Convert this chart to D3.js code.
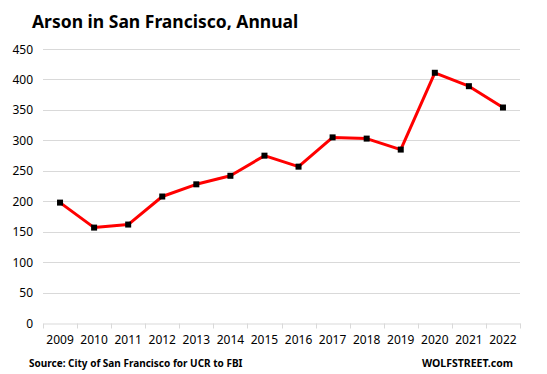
<!DOCTYPE html>
<html><head><meta charset="utf-8">
<script src="https://cdn.jsdelivr.net/npm/d3@7/dist/d3.min.js"></script>
<style>body{margin:0;background:#fff}</style>
</head><body>
<svg id="c" width="547" height="374"></svg>
<script>
const years = ["2009","2010","2011","2012","2013","2014","2015","2016","2017","2018","2019","2020","2021","2022"];
const arson = [198,157,162,208,228,242,275,257,305,303,285,411,389,354];
const yTicks = [0,50,100,150,200,250,300,350,400,450];
const title = "Arson in San Francisco, Annual";
const source = "Source: City of San Francisco for UCR  to FBI";
const brand = "WOLFSTREET.com";

const svg = d3.select("#c");
const x = d3.scaleBand().domain(years).range([43, 520]);
const y = d3.scaleLinear().domain([0, 450]).range([323.3, 49]);
const font = "'Noto Sans', 'Open Sans', sans-serif";

svg.append("text").attr("x", 32).attr("y", 28).attr("font-family", font)
  .attr("font-weight", "bold").attr("font-size", 17.5).attr("fill", "#000").text(title);

// gridlines
svg.append("g").selectAll("line").data(yTicks.filter(d => d > 0)).join("line")
  .attr("x1", 43).attr("x2", 520).attr("y1", d => Math.round(y(d)) + 0.5).attr("y2", d => Math.round(y(d)) + 0.5)
  .attr("stroke", "#d9d9d9").attr("stroke-width", 1);

// y labels
svg.append("g").selectAll("text").data(yTicks).join("text")
  .attr("x", 33).attr("y", d => y(d) + 4.5).attr("text-anchor", "end")
  .attr("font-family", font).attr("font-size", 12).attr("fill", "#000").text(d => d);

// x axis
const xAxis = d3.axisBottom(x).tickSize(0).tickPadding(12);
const gx = svg.append("g").attr("transform", `translate(0,${Math.round(y(0)) + 0.5})`).call(xAxis);
gx.select(".domain").attr("stroke", "#d9d9d9");
gx.selectAll("text").attr("font-family", font).attr("font-size", 12).attr("fill", "#000");
// boundary ticks
const bounds = years.map(d => x(d)).concat([x.range()[1]]);
gx.append("g").selectAll("line").data(bounds).join("line")
  .attr("x1", d => Math.round(d) + 0.5).attr("x2", d => Math.round(d) + 0.5)
  .attr("y1", 0).attr("y2", 5).attr("stroke", "#d9d9d9");

// line
const cx = d => x(d) + x.bandwidth() / 2;
const line = d3.line().x((d, i) => cx(years[i])).y(d => y(d));
svg.append("path").datum(arson).attr("d", line).attr("fill", "none")
  .attr("stroke", "#ff0000").attr("stroke-width", 3).attr("stroke-linejoin", "round");

svg.append("g").selectAll("rect").data(arson).join("rect")
  .attr("x", (d, i) => cx(years[i]) - 3).attr("y", d => y(d) - 3)
  .attr("width", 6).attr("height", 6).attr("fill", "#000");

svg.append("text").attr("x", 29).attr("y", 367).attr("font-family", font)
  .attr("font-weight", "bold").attr("font-size", 10).attr("fill", "#000").text(source);
svg.append("text").attr("x", 513).attr("y", 367).attr("text-anchor", "end").attr("font-family", font)
  .attr("font-weight", "bold").attr("font-size", 10.5).attr("fill", "#000").text(brand);
</script>
</body></html>
